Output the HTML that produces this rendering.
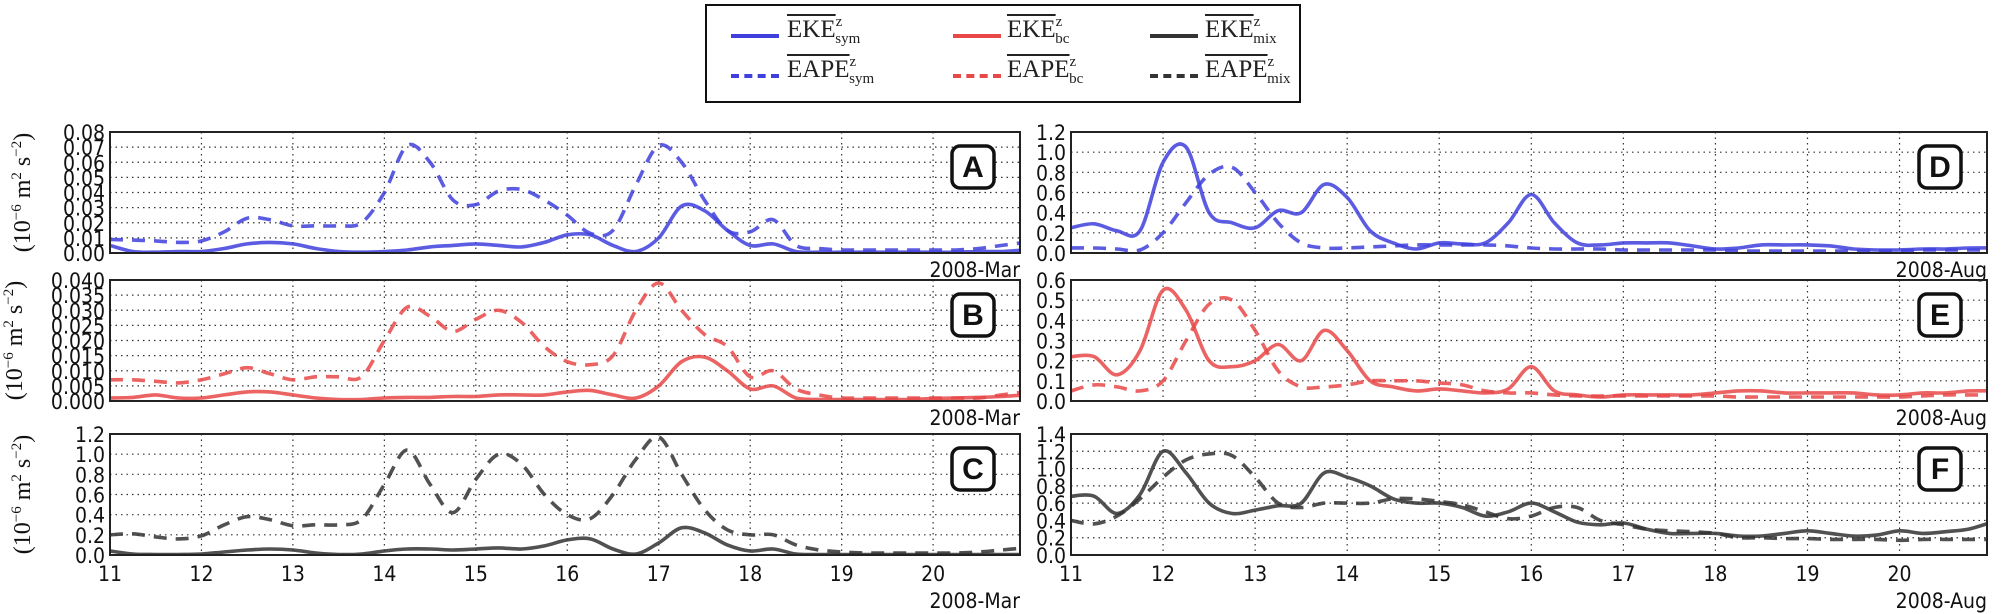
<!DOCTYPE html>
<html><head><meta charset="utf-8">
<style>
body{margin:0;background:#fff;width:2008px;height:614px;overflow:hidden;position:relative;font-family:"DejaVu Sans Condensed","DejaVu Sans","Liberation Sans",sans-serif}
#legend{position:absolute;left:705px;top:4px;width:596px;height:99px;border:2px solid #111;box-sizing:border-box;background:#fff}
.le{position:absolute;font-family:"Liberation Serif",serif;font-size:25px;color:#222}
.le .ov{text-decoration:overline}
.le sup{font-size:15px;vertical-align:11px}
.le sub{font-size:15px;vertical-align:-6px;margin-left:-7px}
.ls{position:absolute;width:48px;height:0;border-top:4px solid}
.ls.d{border-top-style:dashed}
</style></head><body>
<div id="legend">
  <div class="ls" style="left:24px;top:28px;border-color:#4040dd"></div>
  <div class="le" style="left:80px;top:8px"><span class="ov">EKE</span><sup>z</sup><sub>sym</sub></div>
  <div class="ls d" style="left:24px;top:68px;border-color:#4040dd"></div>
  <div class="le" style="left:80px;top:48px"><span class="ov">EAPE</span><sup>z</sup><sub>sym</sub></div>
  <div class="ls" style="left:246px;top:28px;border-color:#e84848"></div>
  <div class="le" style="left:300px;top:8px"><span class="ov">EKE</span><sup>z</sup><sub>bc</sub></div>
  <div class="ls d" style="left:246px;top:68px;border-color:#e84848"></div>
  <div class="le" style="left:300px;top:48px"><span class="ov">EAPE</span><sup>z</sup><sub>bc</sub></div>
  <div class="ls" style="left:443px;top:28px;border-color:#333"></div>
  <div class="le" style="left:498px;top:8px"><span class="ov">EKE</span><sup>z</sup><sub>mix</sub></div>
  <div class="ls d" style="left:443px;top:68px;border-color:#333"></div>
  <div class="le" style="left:498px;top:48px"><span class="ov">EAPE</span><sup>z</sup><sub>mix</sub></div>
</div>
<svg id="chart" width="2008" height="614" style="position:absolute;left:0;top:0"></svg>
<script>
const days=[11,11.25,11.5,11.75,12,12.25,12.5,12.75,13,13.25,13.5,13.75,14,14.25,14.5,14.75,15,15.25,15.5,15.75,16,16.25,16.5,16.75,17,17.25,17.5,17.75,18,18.25,18.5,18.75,19,19.25,19.5,19.75,20,20.25,20.5,20.75,21];
const xTicks=[11,12,13,14,15,16,17,18,19,20];
const ekeA=[0.005,0.001,0.0005,0.001,0.001,0.003,0.006,0.007,0.006,0.003,0.001,0.0005,0.001,0.002,0.004,0.005,0.006,0.005,0.004,0.007,0.012,0.012,0.005,0.001,0.01,0.031,0.028,0.015,0.005,0.006,0.001,0.0005,0.0005,0.0005,0.0005,0.0005,0.0005,0.0005,0.001,0.001,0.002];
const eapeA=[0.009,0.0085,0.008,0.007,0.008,0.014,0.023,0.022,0.018,0.018,0.018,0.02,0.04,0.071,0.06,0.035,0.032,0.041,0.042,0.035,0.025,0.013,0.015,0.045,0.071,0.06,0.035,0.015,0.014,0.022,0.005,0.003,0.002,0.002,0.002,0.002,0.002,0.002,0.003,0.005,0.007];
const ekeB=[0.001,0.0012,0.002,0.001,0.001,0.002,0.003,0.003,0.002,0.001,0.0005,0.0005,0.001,0.0012,0.0012,0.0015,0.0015,0.002,0.002,0.002,0.003,0.0035,0.002,0.001,0.005,0.013,0.0145,0.01,0.004,0.005,0.001,0.0005,0.0005,0.0005,0.0005,0.0005,0.0008,0.001,0.0012,0.0015,0.002];
const eapeB=[0.007,0.007,0.0065,0.006,0.007,0.009,0.011,0.009,0.007,0.008,0.008,0.008,0.02,0.031,0.028,0.023,0.027,0.03,0.026,0.018,0.013,0.012,0.015,0.03,0.039,0.03,0.022,0.018,0.008,0.01,0.004,0.002,0.001,0.001,0.001,0.001,0.001,0.001,0.001,0.002,0.003];
const ekeC=[0.04,0.01,0.005,0.005,0.01,0.03,0.05,0.06,0.05,0.02,0.005,0.01,0.04,0.06,0.06,0.05,0.06,0.07,0.06,0.09,0.15,0.16,0.06,0.01,0.12,0.27,0.22,0.1,0.04,0.06,0.01,0.005,0.005,0.005,0.005,0.005,0.005,0.005,0.005,0.005,0.005];
const eapeC=[0.2,0.21,0.18,0.16,0.19,0.3,0.38,0.35,0.29,0.3,0.3,0.35,0.7,1.04,0.7,0.42,0.75,1.0,0.9,0.6,0.4,0.36,0.6,0.95,1.17,0.8,0.45,0.25,0.2,0.2,0.1,0.05,0.03,0.02,0.02,0.02,0.02,0.02,0.03,0.05,0.07];
const ekeD=[0.25,0.29,0.22,0.22,0.9,1.05,0.4,0.3,0.25,0.42,0.4,0.68,0.55,0.22,0.1,0.04,0.1,0.09,0.1,0.3,0.58,0.3,0.1,0.08,0.1,0.1,0.1,0.07,0.04,0.05,0.08,0.08,0.08,0.07,0.04,0.03,0.03,0.04,0.04,0.05,0.05];
const eapeD=[0.05,0.05,0.04,0.03,0.2,0.5,0.78,0.85,0.6,0.3,0.1,0.05,0.05,0.06,0.07,0.08,0.08,0.08,0.08,0.07,0.05,0.04,0.04,0.04,0.03,0.03,0.03,0.03,0.03,0.02,0.02,0.02,0.02,0.02,0.02,0.02,0.02,0.03,0.03,0.03,0.03];
const ekeE=[0.22,0.22,0.13,0.25,0.55,0.45,0.2,0.17,0.2,0.28,0.2,0.35,0.25,0.1,0.07,0.05,0.06,0.05,0.04,0.06,0.17,0.05,0.03,0.02,0.03,0.03,0.03,0.03,0.04,0.05,0.05,0.04,0.04,0.04,0.04,0.03,0.03,0.04,0.04,0.05,0.05];
const eapeE=[0.05,0.08,0.07,0.05,0.1,0.3,0.48,0.5,0.35,0.15,0.07,0.07,0.08,0.1,0.1,0.1,0.09,0.08,0.05,0.04,0.04,0.03,0.025,0.025,0.025,0.025,0.025,0.025,0.025,0.02,0.02,0.02,0.02,0.02,0.02,0.02,0.02,0.025,0.03,0.03,0.03];
const ekeF=[0.68,0.68,0.48,0.7,1.2,0.95,0.6,0.48,0.52,0.57,0.6,0.95,0.9,0.8,0.65,0.6,0.6,0.55,0.45,0.5,0.6,0.5,0.38,0.35,0.37,0.3,0.25,0.25,0.25,0.22,0.22,0.25,0.28,0.25,0.22,0.23,0.28,0.25,0.27,0.3,0.38];
const eapeF=[0.4,0.36,0.45,0.65,0.9,1.1,1.17,1.15,0.9,0.6,0.55,0.6,0.6,0.6,0.65,0.65,0.62,0.58,0.5,0.42,0.45,0.55,0.55,0.4,0.35,0.3,0.28,0.27,0.25,0.2,0.2,0.19,0.19,0.18,0.18,0.18,0.17,0.18,0.18,0.18,0.18];
const ticksA=["0.00","0.01","0.02","0.03","0.04","0.05","0.06","0.07","0.08"];
const ticksB=["0.000","0.005","0.010","0.015","0.020","0.025","0.030","0.035","0.040"];
const ticksC=["0.0","0.2","0.4","0.6","0.8","1.0","1.2"];
const ticksE=["0.0","0.1","0.2","0.3","0.4","0.5","0.6"];
const ticksF=["0.0","0.2","0.4","0.6","0.8","1.0","1.2","1.4"];

const NS="http://www.w3.org/2000/svg";
const svg=document.getElementById('chart');
function mk(tag,attrs,parent){const e=document.createElementNS(NS,tag);for(const k in attrs)e.setAttribute(k,attrs[k]);(parent||svg).appendChild(e);return e;}
const rows=[[132,253],[280,401],[434,555]];
const cols=[[110,1020,"2008-Mar"],[1071,1987,"2008-Aug"]];
const panels=[
 {id:"A",c:0,r:0,ticks:ticksA,max:0.08,s:[ekeA,eapeA],col:"#4040dd"},
 {id:"B",c:0,r:1,ticks:ticksB,max:0.04,s:[ekeB,eapeB],col:"#e84848"},
 {id:"C",c:0,r:2,ticks:ticksC,max:1.2,s:[ekeC,eapeC],col:"#333333"},
 {id:"D",c:1,r:0,ticks:ticksC,max:1.2,s:[ekeD,eapeD],col:"#4040dd"},
 {id:"E",c:1,r:1,ticks:ticksE,max:0.6,s:[ekeE,eapeE],col:"#e84848"},
 {id:"F",c:1,r:2,ticks:ticksF,max:1.4,s:[ekeF,eapeF],col:"#333333"}];
function pathCR(pts){let d="M"+pts[0][0]+","+pts[0][1];for(let i=0;i<pts.length-1;i++){const p0=pts[Math.max(0,i-1)],p1=pts[i],p2=pts[i+1],p3=pts[Math.min(pts.length-1,i+2)];
 const c1=[p1[0]+(p2[0]-p0[0])/6,p1[1]+(p2[1]-p0[1])/6],c2=[p2[0]-(p3[0]-p1[0])/6,p2[1]-(p3[1]-p1[1])/6];
 d+=` C${c1[0].toFixed(1)},${c1[1].toFixed(1)} ${c2[0].toFixed(1)},${c2[1].toFixed(1)} ${p2[0].toFixed(1)},${p2[1].toFixed(1)}`;}return d;}
panels.forEach(p=>{
 const [L,R,mon]=cols[p.c],[T,B]=rows[p.r];
 const xs=d=>L+(d-11)*(R-L)/9.95;
 const ys=v=>B-v/p.max*(B-T);
 const g=mk('g',{});
 
 
 const cid='clip'+p.id;
 const cp=mk('clipPath',{id:cid},g);mk('rect',{x:L,y:T,width:R-L,height:B-T},cp);
 p.ticks.forEach((t,i)=>{const v=parseFloat(t),y=ys(v);
  if(i>0&&i<p.ticks.length-1){const gl=mk('line',{x1:L,x2:R,y1:y,y2:y,stroke:'#333','stroke-width':1.2,'stroke-dasharray':'1.5,4'},g);}
  const tl=mk('text',{x:L-5,y:y+8,'text-anchor':'end','font-size':21,fill:'#111'},g);tl.textContent=t;
  
 });
 xTicks.forEach(d=>{const x=xs(d);
  if(d>11){const gl=mk('line',{x1:x,x2:x,y1:T,y2:B,stroke:'#333','stroke-width':1.2,'stroke-dasharray':'1.5,4'},g);}
  if(p.r===2){const tl=mk('text',{x:x,y:B+26,'text-anchor':'middle','font-size':21,fill:'#111'},g);tl.textContent=d;
   }
 });
 p.s.forEach((vals,si)=>{
  const pts=days.map((d,i)=>[xs(d),ys(vals[i])]);
  const pa=mk('path',{d:pathCR(pts),fill:'none',stroke:p.col,'stroke-width':3.6,'stroke-opacity':0.85,'clip-path':`url(#${cid})`,'stroke-linejoin':'round'},g);
  if(si===1)pa.setAttribute('stroke-dasharray','13,9');
  
  
 });
 const fr=mk('rect',{x:L,y:T,width:R-L,height:B-T,fill:'none',stroke:'#222','stroke-width':2},g);
 
 const lb=mk('rect',{x:R-68,y:T+14,width:42,height:42,rx:8,fill:'#fff',stroke:'#111','stroke-width':3.5},g);
 
 const lt=mk('text',{x:R-47,y:T+45,'text-anchor':'middle','font-size':30,'font-weight':'bold','font-family':'Liberation Sans,sans-serif',fill:'#111'},g);lt.textContent=p.id;
 
 const mt=mk('text',{x:R,y:p.r===2?B+53:B+24,'text-anchor':'end','font-size':21,fill:'#111'},g);mt.textContent=mon;
 
 if(p.c===0){const yl=mk('text',{transform:`translate(${p.r===1?22:30},${(T+B)/2}) rotate(-90)`,'text-anchor':'middle','font-size':24,'font-family':'Liberation Serif,serif',fill:'#111'},g);
  yl.innerHTML='(10<tspan dy="-9" font-size="15">−6</tspan><tspan dy="9"> m</tspan><tspan dy="-9" font-size="15">2</tspan><tspan dy="9"> s</tspan><tspan dy="-9" font-size="15">−2</tspan><tspan dy="9">)</tspan>';
  }
});
</script>
</body></html>
